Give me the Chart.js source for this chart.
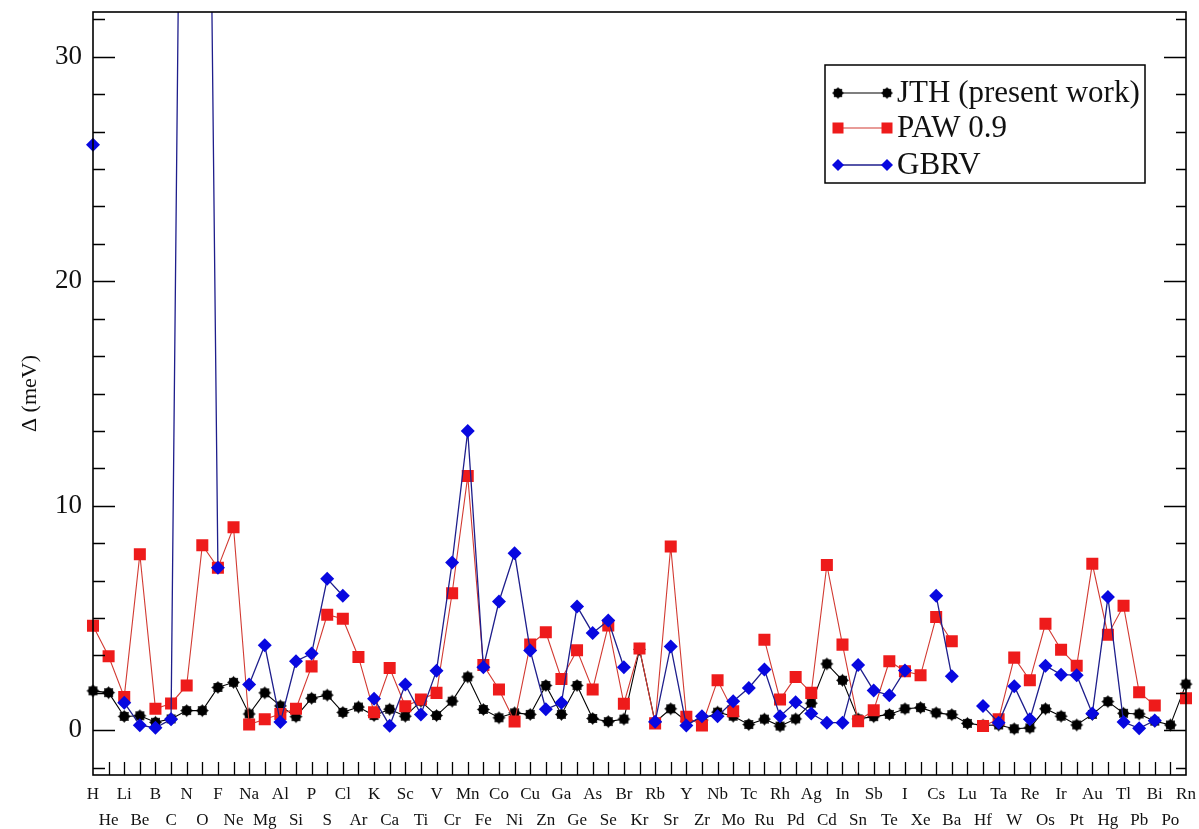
<!DOCTYPE html>
<html><head><meta charset="utf-8">
<script src="https://cdn.jsdelivr.net/npm/chart.js@4.4.1/dist/chart.umd.min.js"></script>
<style>html,body{margin:0;padding:0;background:#fff;}#wrap{width:1199px;height:829px;}</style>
</head><body><div id="wrap"><canvas id="c" width="1199" height="829"></canvas></div>
<script>
const elements = ['H','He','Li','Be','B','C','N','O','F','Ne','Na','Mg','Al','Si','P','S','Cl','Ar','K','Ca',
  'Sc','Ti','V','Cr','Mn','Fe','Co','Ni','Cu','Zn','Ga','Ge','As','Se','Br','Kr','Rb','Sr','Y','Zr',
  'Nb','Mo','Tc','Ru','Rh','Pd','Ag','Cd','In','Sn','Sb','Te','I','Xe','Cs','Ba','Lu','Hf','Ta','W',
  'Re','Os','Ir','Pt','Au','Hg','Tl','Pb','Bi','Po','Rn'];

const jth = [1.75,1.67,0.61,0.64,0.35,0.50,0.87,0.87,1.90,2.13,0.72,1.66,1.08,0.60,1.42,1.56,0.79,1.03,0.65,0.93,
  0.62,1.29,0.65,1.29,2.37,0.92,0.55,0.77,0.70,1.99,0.70,1.99,0.52,0.38,0.49,3.60,0.35,0.95,0.40,0.45,
  0.80,0.62,0.25,0.49,0.18,0.50,1.20,2.95,2.22,0.50,0.60,0.70,0.95,1.00,0.77,0.69,0.30,0.22,0.23,0.06,
  0.10,0.95,0.62,0.23,0.70,1.27,0.75,0.72,0.40,0.23,2.05];

const paw = [4.65,3.29,1.48,7.84,0.95,1.19,1.99,8.24,7.24,9.04,0.25,0.48,0.72,0.95,2.84,5.14,4.96,3.26,0.80,2.77,
  1.06,1.36,1.66,6.10,11.32,2.90,1.81,0.38,3.81,4.36,2.28,3.56,1.81,4.66,1.18,3.64,0.30,8.18,0.60,0.21,
  2.22,0.84,null,4.03,1.36,2.37,1.66,7.36,3.81,0.40,0.89,3.07,2.62,2.45,5.04,3.96,null,0.18,0.48,3.23,
  2.22,4.74,3.58,2.87,7.41,4.25,5.54,1.69,1.10,null,1.42];

const gbrv = [26.08,null,1.22,0.22,0.10,0.48,70,72,7.24,null,2.03,3.78,0.36,3.07,3.41,6.74,5.99,null,1.40,0.20,
  2.03,0.70,2.65,7.47,13.33,2.80,5.73,7.88,3.55,0.93,1.22,5.51,4.33,4.88,2.80,null,0.37,3.73,0.21,0.62,
  0.62,1.29,1.88,2.70,0.62,1.24,0.74,0.33,0.33,2.90,1.76,1.55,2.66,null,5.99,2.40,null,1.07,0.33,1.96,
  0.48,2.87,2.47,2.45,0.74,5.93,0.36,0.08,0.43,null,null];

const yTickValues = [0,10,20,30];
const seriesNames = ['JTH (present work)','PAW 0.9','GBRV'];

const FONT = 'Liberation Serif';

function starMarker(r1, r2, n){
  const c = document.createElement('canvas');
  const s = Math.ceil(r1*2+2); c.width = s; c.height = s;
  const g = c.getContext('2d');
  g.fillStyle = '#000';
  g.beginPath();
  for (let i=0;i<2*n;i++){
    const r = i%2===0 ? r1 : r2;
    const a = Math.PI*i/n;
    const px = s/2 + r*Math.cos(a), py = s/2 + r*Math.sin(a);
    if (i===0) g.moveTo(px,py); else g.lineTo(px,py);
  }
  g.closePath(); g.fill();
  g.beginPath(); g.arc(s/2,s/2,r2+0.6,0,Math.PI*2); g.fill();
  return c;
}
const blackStar = starMarker(6.5, 4.3, 8);

const labels = elements.map((e,i)=> i%2===0 ? [e,''] : ['',e]);

const frameAndLegend = {
  id:'frameAndLegend',
  afterDatasetsDraw(chart){
    const {ctx, chartArea:a, scales:{x,y}} = chart;
    ctx.save();
    ctx.strokeStyle = '#000';
    ctx.lineWidth = 1.6;
    ctx.strokeRect(a.left, a.top, a.right-a.left, a.bottom-a.top);
    ctx.lineWidth = 1.3;
    ctx.beginPath();
    for (let i=1;i<elements.length-1;i++){
      const px = Math.round(x.getPixelForValue(i))+0.5;
      ctx.moveTo(px, a.bottom); ctx.lineTo(px, a.bottom-13);
    }
    const step = 10/6;
    for (let k=-1;k<=19;k++){
      const v = k*step;
      if (v < y.min || v > y.max) continue;
      const py = Math.round(y.getPixelForValue(v))+0.5;
      const major = (k%6===0);
      const lenL = major ? 22 : 12;
      const lenR = major ? 22 : 10;
      ctx.moveTo(a.left, py); ctx.lineTo(a.left+lenL, py);
      ctx.moveTo(a.right, py); ctx.lineTo(a.right-lenR, py);
    }
    ctx.stroke();
    ctx.restore();
  },
  afterDraw(chart){
    const ctx = chart.ctx;
    const bx = 825, by = 65, bw = 320, bh = 118;
    ctx.save();
    ctx.fillStyle = '#fff';
    ctx.fillRect(bx,by,bw,bh);
    ctx.strokeStyle = '#000'; ctx.lineWidth = 1.5;
    ctx.strokeRect(bx,by,bw,bh);
    const rows = [93,128,165];
    chart.data.datasets.forEach((ds, idx) => {
      const yy = rows[idx];
      ctx.strokeStyle = ds.borderColor; ctx.lineWidth = ds.borderWidth;
      ctx.beginPath(); ctx.moveTo(838,yy); ctx.lineTo(887,yy); ctx.stroke();
      [838,887].forEach(px => {
        if (ds.pointStyle === 'rect'){
          ctx.fillStyle = ds.pointBackgroundColor;
          ctx.fillRect(px-5.5, yy-5.5, 11, 11);
        } else if (ds.pointStyle === 'rectRot'){
          ctx.fillStyle = ds.pointBackgroundColor;
          ctx.beginPath(); ctx.moveTo(px-6,yy); ctx.lineTo(px,yy-6); ctx.lineTo(px+6,yy); ctx.lineTo(px,yy+6); ctx.closePath(); ctx.fill();
        } else {
          ctx.drawImage(blackStar, px-blackStar.width/2+0.5, yy-blackStar.height/2+0.5, blackStar.width-1, blackStar.height-1);
        }
      });
      ctx.fillStyle = '#111';
      ctx.font = '31px "' + FONT + '"';
      ctx.textBaseline = 'middle'; ctx.textAlign = 'left';
      ctx.fillText(ds.label, 897, yy+1);
    });
    ctx.restore();
  }
};

new Chart(document.getElementById('c'), {
  type:'line',
  data:{
    labels: labels,
    datasets:[
      {label: seriesNames[0], data: jth, borderColor:'#000', borderWidth:1.1, pointStyle: blackStar,
       pointRadius:6, pointBackgroundColor:'#000', pointBorderColor:'#000', spanGaps:false, order:3, tension:0},
      {label: seriesNames[1], data: paw, borderColor:'#d23a32', borderWidth:1.1, pointStyle:'rect',
       pointRadius:8.5, pointBackgroundColor:'#ee1b1b', pointBorderColor:'#ee1b1b', pointBorderWidth:0, spanGaps:false, order:2, tension:0},
      {label: seriesNames[2], data: gbrv, borderColor:'#1e1e8c', borderWidth:1.3, pointStyle:'rectRot',
       pointRadius:7, pointBackgroundColor:'#0808e0', pointBorderColor:'#0808e0', pointBorderWidth:0, spanGaps:false, order:1, tension:0,
       clip:{left:12,right:12,top:0,bottom:12}}
    ]
  },
  options:{
    responsive:false, animation:false, devicePixelRatio:1,
    layout:{padding:{top:12,right:13,left:0,bottom:0}},
    plugins:{legend:{display:false}, tooltip:{enabled:false}},
    scales:{
      x:{
        type:'category', offset:false,
        grid:{display:false, drawTicks:false}, border:{display:false},
        ticks:{autoSkip:false, maxRotation:0, minRotation:0, padding:7, color:'#111',
               font:{family:FONT, size:17, lineHeight:1.53}},
        afterFit(s){ s.height = 54; s.paddingLeft = 0; s.paddingRight = 0; }
      },
      y:{
        min:-2, max:32,
        grid:{display:false, drawTicks:false}, border:{display:false},
        afterBuildTicks(s){ s.ticks = yTickValues.map(v=>({value:v})); },
        ticks:{padding:11, color:'#111', font:{family:FONT, size:27}, callback:(v)=>String(v)},
        title:{display:true, text:'Δ (meV)', color:'#111', font:{family:FONT, size:22}, padding:{top:17,bottom:0}},
        afterFit(s){ s.width = 93; s.paddingTop = 0; s.paddingBottom = 0; }
      }
    }
  },
  plugins:[frameAndLegend]
});
</script></body></html>
